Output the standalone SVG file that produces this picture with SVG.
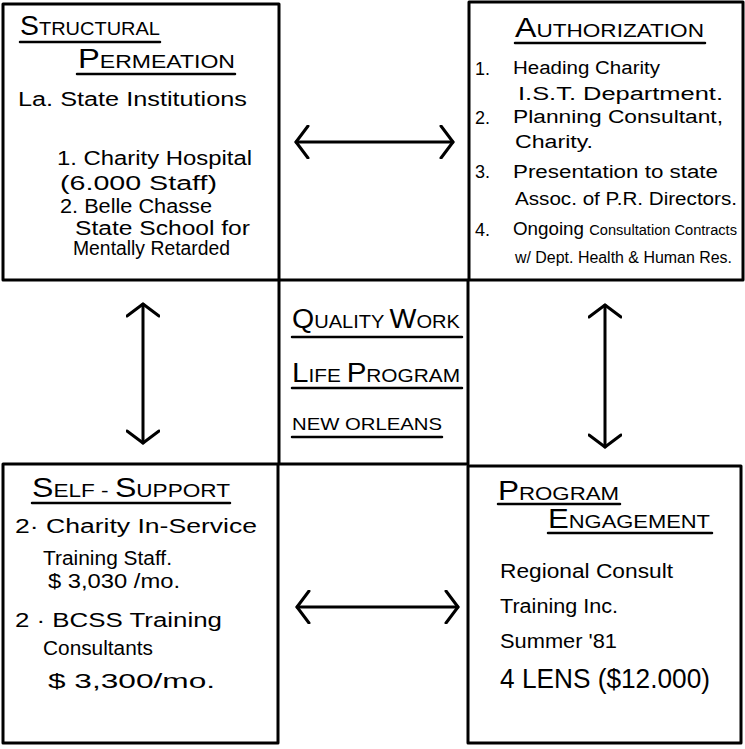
<svg xmlns="http://www.w3.org/2000/svg" width="745" height="749" viewBox="0 0 745 749">
<style>
.bg{fill:#fff}
.box{fill:none;stroke:#000;stroke-width:3;stroke-linejoin:round}
.ul{stroke:#000;stroke-width:2.5;stroke-linecap:round}
.t{font-family:"Liberation Sans",Arial,sans-serif;fill:#000;font-size:20px}
.s{font-family:"Liberation Sans",Arial,sans-serif;fill:#000;font-size:18px}
.h{font-family:"Liberation Sans",Arial,sans-serif;fill:#000;font-size:19px}
.big{font-size:27px}
.lg{font-family:"Liberation Sans",Arial,sans-serif;fill:#000;font-size:27px}
.con{fill:none;stroke:#000;stroke-width:3;stroke-linecap:round}
</style>
<defs>
<marker id="vh" viewBox="0 0 16 34" refX="14" refY="17" markerWidth="16" markerHeight="34" markerUnits="userSpaceOnUse" orient="auto-start-reverse">
<path d="M2,1 L14,17 L2,33" fill="none" stroke="#000" stroke-width="3" stroke-linecap="round" stroke-linejoin="round"/>
</marker>
</defs>
<rect class="bg" x="0" y="0" width="745" height="749"/>

<g id="structural-permeation">
<rect class="box" x="3" y="4" width="276" height="276"/>
<text class="h" x="20" y="35" textLength="140" lengthAdjust="spacingAndGlyphs"><tspan class="big">S</tspan>TRUCTURAL</text>
<line class="ul" x1="20" y1="42" x2="160" y2="42"/>
<text class="h" x="78" y="68" textLength="157" lengthAdjust="spacingAndGlyphs"><tspan class="big">P</tspan>ERMEATION</text>
<line class="ul" x1="77" y1="74" x2="235" y2="74"/>
<text class="t" x="18" y="106" textLength="229" lengthAdjust="spacingAndGlyphs">La. State Institutions</text>
<text class="t" x="57" y="165" textLength="195" lengthAdjust="spacingAndGlyphs">1. Charity Hospital</text>
<text class="t" x="60" y="190" textLength="157" lengthAdjust="spacingAndGlyphs">(6.000 Staff)</text>
<text class="t" x="60" y="213" textLength="152" lengthAdjust="spacingAndGlyphs">2. Belle Chasse</text>
<text class="t" x="75" y="235" textLength="175" lengthAdjust="spacingAndGlyphs">State School for</text>
<text class="t" x="73" y="255" textLength="157" lengthAdjust="spacingAndGlyphs">Mentally Retarded</text>
</g>

<g id="authorization">
<rect class="box" x="469" y="2" width="274" height="278"/>
<text class="h" x="515" y="37" textLength="189" lengthAdjust="spacingAndGlyphs"><tspan class="big">A</tspan>UTHORIZATION</text>
<line class="ul" x1="515" y1="43" x2="705" y2="43"/>
<text class="s" x="475" y="75">1.</text>
<text class="s" x="513" y="74" textLength="147" lengthAdjust="spacingAndGlyphs">Heading Charity</text>
<text class="s" x="518" y="100" textLength="205" lengthAdjust="spacingAndGlyphs">I.S.T. Department.</text>
<text class="s" x="475" y="124">2.</text>
<text class="s" x="513" y="123" textLength="210" lengthAdjust="spacingAndGlyphs">Planning Consultant,</text>
<text class="s" x="515" y="148" textLength="78" lengthAdjust="spacingAndGlyphs">Charity.</text>
<text class="s" x="475" y="178">3.</text>
<text class="s" x="513" y="178" textLength="205" lengthAdjust="spacingAndGlyphs">Presentation to state</text>
<text class="s" x="515" y="205" textLength="222" lengthAdjust="spacingAndGlyphs">Assoc. of P.R. Directors.</text>
<text class="s" x="475" y="236">4.</text>
<text class="s" x="513" y="235" textLength="224" lengthAdjust="spacingAndGlyphs">Ongoing <tspan style="font-size:14px">Consultation Contracts</tspan></text>
<text class="s" x="515" y="263" style="font-size:16px" textLength="217" lengthAdjust="spacingAndGlyphs">w/ Dept. Health &amp; Human Res.</text>
</g>

<g id="quality-work-life-program">
<rect class="box" x="279" y="280" width="189" height="184"/>
<text class="h" x="292" y="328" textLength="168" lengthAdjust="spacingAndGlyphs"><tspan class="big">Q</tspan>UALITY <tspan class="big">W</tspan>ORK</text>
<line class="ul" x1="292" y1="337" x2="462" y2="337"/>
<text class="h" x="292" y="382" textLength="168" lengthAdjust="spacingAndGlyphs"><tspan class="big">L</tspan>IFE <tspan class="big">P</tspan>ROGRAM</text>
<line class="ul" x1="292" y1="388" x2="462" y2="388"/>
<text class="h" x="292" y="430" style="font-size:17px" textLength="150" lengthAdjust="spacingAndGlyphs">NEW ORLEANS</text>
<line class="ul" x1="292" y1="437" x2="442" y2="437"/>
</g>

<g id="self-support">
<rect class="box" x="3" y="464" width="275" height="279"/>
<text class="h" x="32" y="497" textLength="198" lengthAdjust="spacingAndGlyphs"><tspan class="big">S</tspan>ELF - <tspan class="big">S</tspan>UPPORT</text>
<line class="ul" x1="32" y1="503" x2="230" y2="503"/>
<text class="t" x="15" y="533" textLength="242" lengthAdjust="spacingAndGlyphs">2· Charity In-Service</text>
<text class="t" x="43" y="565" textLength="129" lengthAdjust="spacingAndGlyphs">Training Staff.</text>
<text class="t" x="48" y="588" textLength="132" lengthAdjust="spacingAndGlyphs">$ 3,030 /mo.</text>
<text class="t" x="15" y="627" textLength="207" lengthAdjust="spacingAndGlyphs">2 · BCSS Training</text>
<text class="t" x="43" y="655" textLength="110" lengthAdjust="spacingAndGlyphs">Consultants</text>
<text class="t" x="48" y="688" textLength="167" lengthAdjust="spacingAndGlyphs">$ 3,300/mo.</text>
</g>

<g id="program-engagement">
<rect class="box" x="468" y="466" width="273" height="277"/>
<text class="h" x="498" y="500" textLength="121" lengthAdjust="spacingAndGlyphs"><tspan class="big">P</tspan>ROGRAM</text>
<line class="ul" x1="498" y1="504" x2="620" y2="504"/>
<text class="h" x="548" y="528" textLength="162" lengthAdjust="spacingAndGlyphs"><tspan class="big">E</tspan>NGAGEMENT</text>
<line class="ul" x1="548" y1="533" x2="712" y2="533"/>
<text class="t" x="500" y="578" textLength="173" lengthAdjust="spacingAndGlyphs">Regional Consult</text>
<text class="t" x="500" y="613" textLength="118" lengthAdjust="spacingAndGlyphs">Training Inc.</text>
<text class="t" x="500" y="648" textLength="117" lengthAdjust="spacingAndGlyphs">Summer '81</text>
<text class="lg" x="500" y="688" textLength="210" lengthAdjust="spacingAndGlyphs">4 LENS ($12.000)</text>
</g>

<g id="connectors">
<path class="con" d="M296,142 H453" marker-start="url(#vh)" marker-end="url(#vh)"/>
<path class="con" d="M297,607 H458" marker-start="url(#vh)" marker-end="url(#vh)"/>
<path class="con" d="M143,304 V443" marker-start="url(#vh)" marker-end="url(#vh)"/>
<path class="con" d="M605,305 V447" marker-start="url(#vh)" marker-end="url(#vh)"/>
</g>
</svg>
